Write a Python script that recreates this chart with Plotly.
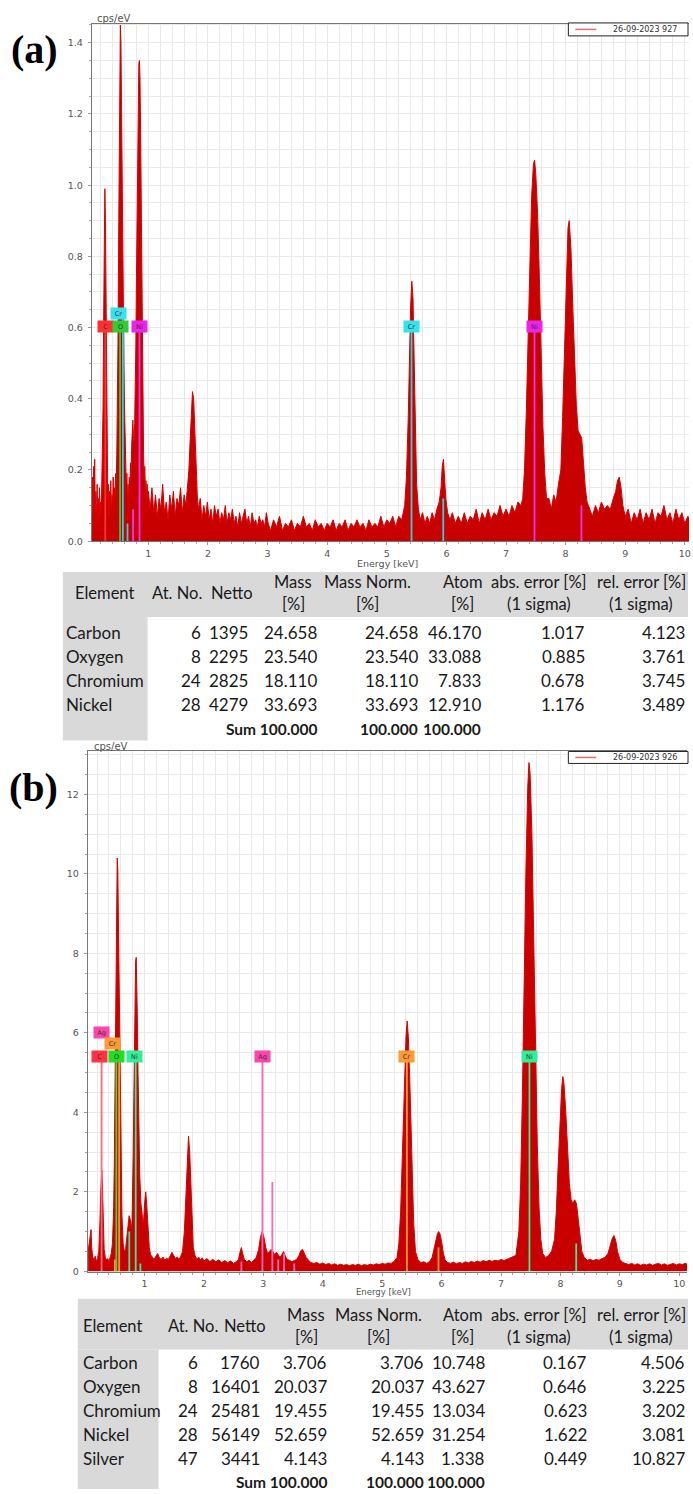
import plotly.graph_objects as go

W, H = 693, 1494


def fx(p):
    return p / W


def fy(p):
    return 1 - p / H


# ---------------- spectrum (a): energy [keV] and intensity [cps/eV] ----------------
energy_a = [
    0.05, 0.06, 0.07, 0.08, 0.09, 0.10, 0.11, 0.12, 0.13, 0.14,
    0.15, 0.16, 0.17, 0.18, 0.19, 0.20, 0.21, 0.22, 0.23, 0.24,
    0.25, 0.26, 0.27, 0.28, 0.29, 0.30, 0.31, 0.32, 0.33, 0.34,
    0.35, 0.36, 0.37, 0.38, 0.39, 0.40, 0.41, 0.42, 0.43, 0.44,
    0.45, 0.46, 0.47, 0.48, 0.49, 0.50, 0.51, 0.52, 0.53, 0.54,
    0.55, 0.56, 0.57, 0.58, 0.59, 0.60, 0.61, 0.62, 0.63, 0.64,
    0.65, 0.66, 0.67, 0.68, 0.69, 0.70, 0.71, 0.72, 0.73, 0.74,
    0.75, 0.76, 0.77, 0.78, 0.79, 0.80, 0.81, 0.82, 0.83, 0.84,
    0.85, 0.86, 0.87, 0.88, 0.89, 0.90, 0.91, 0.92, 0.93, 0.94,
    0.95, 0.96, 0.97, 0.98, 0.99, 1.00,
    1.03, 1.06, 1.09, 1.12, 1.15, 1.18, 1.21, 1.24, 1.27, 1.30,
    1.33, 1.36, 1.39, 1.42, 1.45, 1.48, 1.51, 1.54, 1.57, 1.60,
    1.63, 1.66, 1.68, 1.70, 1.72, 1.74, 1.76, 1.78, 1.80, 1.82,
    1.84, 1.87, 1.90, 1.93, 1.96, 1.99, 2.02, 2.05, 2.08, 2.11,
    2.14, 2.17, 2.20, 2.23, 2.26, 2.29, 2.32, 2.35, 2.38, 2.41,
    2.44, 2.47, 2.50, 2.53, 2.56, 2.59, 2.62, 2.65, 2.68, 2.71,
    2.74, 2.77, 2.80, 2.83, 2.86, 2.89, 2.92, 2.95, 2.98, 3.01,
    3.05, 3.10, 3.15, 3.20, 3.25, 3.30, 3.35, 3.40, 3.45, 3.50,
    3.55, 3.60, 3.65, 3.70, 3.75, 3.80, 3.85, 3.90, 3.95, 4.00,
    4.05, 4.10, 4.15, 4.20, 4.25, 4.30, 4.35, 4.40, 4.45, 4.50,
    4.55, 4.60, 4.65, 4.70, 4.75, 4.80, 4.85, 4.90, 4.95, 5.00,
    5.05, 5.10, 5.15, 5.20, 5.25, 5.30, 5.33, 5.36, 5.38, 5.40,
    5.42, 5.44, 5.46, 5.48, 5.50, 5.53, 5.56, 5.60, 5.64, 5.68,
    5.72, 5.76, 5.80, 5.84, 5.88, 5.91, 5.93, 5.95, 5.97, 5.99,
    6.02, 6.06, 6.10, 6.15, 6.20, 6.25, 6.30, 6.35, 6.40, 6.45,
    6.50, 6.55, 6.60, 6.65, 6.70, 6.75, 6.80, 6.85, 6.90, 6.95,
    7.00, 7.05, 7.10, 7.15, 7.20, 7.25, 7.28, 7.31, 7.34, 7.37,
    7.40, 7.43, 7.46, 7.48, 7.50, 7.53, 7.56, 7.59, 7.62, 7.65,
    7.68, 7.72, 7.76, 7.80, 7.84, 7.88, 7.92, 7.95, 7.98, 8.01,
    8.04, 8.06, 8.09, 8.12, 8.15, 8.18, 8.21, 8.24, 8.27, 8.30,
    8.33, 8.36, 8.40, 8.45, 8.50, 8.55, 8.60, 8.65, 8.70, 8.75,
    8.80, 8.84, 8.87, 8.90, 8.93, 8.96, 9.00, 9.05, 9.10, 9.15,
    9.20, 9.25, 9.30, 9.35, 9.40, 9.45, 9.50, 9.55, 9.60, 9.65,
    9.70, 9.75, 9.80, 9.85, 9.90, 9.95, 10.00, 10.05, 10.10,
]
cps_a = [
    0.10, 0.18, 0.07, 0.21, 0.12, 0.23, 0.06, 0.14, 0.05, 0.16,
    0.08, 0.12, 0.05, 0.15, 0.07, 0.11, 0.08, 0.16, 0.22, 0.38,
    0.62, 0.88, 0.99, 0.90, 0.62, 0.34, 0.18, 0.10, 0.16, 0.07,
    0.14, 0.09, 0.17, 0.08, 0.13, 0.10, 0.18, 0.11, 0.15, 0.12,
    0.19, 0.16, 0.24, 0.36, 0.55, 0.82, 1.10, 1.32, 1.45, 1.40,
    1.18, 0.95, 0.78, 0.66, 0.50, 0.38, 0.28, 0.22, 0.15, 0.19,
    0.12, 0.16, 0.10, 0.18, 0.14, 0.22, 0.19, 0.27, 0.31, 0.34,
    0.30, 0.28, 0.33, 0.40, 0.55, 0.74, 0.95, 1.12, 1.26, 1.34,
    1.35, 1.30, 1.15, 0.92, 0.68, 0.48, 0.33, 0.24, 0.18, 0.21,
    0.14, 0.17, 0.12, 0.16, 0.11, 0.14,
    0.09, 0.15, 0.08, 0.13, 0.07, 0.12, 0.09, 0.16, 0.08, 0.11,
    0.06, 0.13, 0.09, 0.14, 0.07, 0.12, 0.10, 0.15, 0.08, 0.13,
    0.10, 0.16, 0.20, 0.28, 0.38, 0.42, 0.40, 0.30, 0.20, 0.13,
    0.09, 0.12, 0.06, 0.10, 0.07, 0.11, 0.06, 0.09, 0.05, 0.10,
    0.07, 0.09, 0.05, 0.08, 0.06, 0.10, 0.05, 0.08, 0.06, 0.09,
    0.05, 0.07, 0.04, 0.08, 0.05, 0.07, 0.09, 0.05, 0.07, 0.04,
    0.08, 0.05, 0.06, 0.04, 0.07, 0.05, 0.06, 0.04, 0.08, 0.05,
    0.03, 0.06, 0.04, 0.07, 0.03, 0.05, 0.04, 0.06, 0.03, 0.05,
    0.04, 0.07, 0.04, 0.05, 0.03, 0.06, 0.04, 0.05, 0.03, 0.05,
    0.04, 0.06, 0.03, 0.05, 0.04, 0.06, 0.03, 0.05, 0.04, 0.06,
    0.04, 0.05, 0.03, 0.06, 0.04, 0.05, 0.04, 0.07, 0.04, 0.06,
    0.05, 0.07, 0.04, 0.07, 0.06, 0.10, 0.18, 0.35, 0.52, 0.66,
    0.73, 0.68, 0.50, 0.30, 0.16, 0.09, 0.06, 0.08, 0.05, 0.07,
    0.05, 0.08, 0.06, 0.09, 0.11, 0.15, 0.21, 0.23, 0.18, 0.12,
    0.08, 0.06, 0.08, 0.05, 0.07, 0.05, 0.08, 0.05, 0.07, 0.06,
    0.09, 0.05, 0.08, 0.06, 0.09, 0.06, 0.08, 0.07, 0.10, 0.07,
    0.09, 0.07, 0.10, 0.08, 0.11, 0.10, 0.12, 0.20, 0.36, 0.58,
    0.80, 0.97, 1.06, 1.07, 1.03, 0.92, 0.74, 0.52, 0.32, 0.19,
    0.12, 0.12, 0.09, 0.13, 0.11, 0.16, 0.20, 0.35, 0.55, 0.75,
    0.88, 0.90, 0.82, 0.66, 0.50, 0.38, 0.31, 0.30, 0.29, 0.22,
    0.15, 0.11, 0.09, 0.07, 0.10, 0.08, 0.11, 0.09, 0.10, 0.09,
    0.12, 0.14, 0.17, 0.18, 0.15, 0.10, 0.07, 0.09, 0.05, 0.08,
    0.06, 0.09, 0.05, 0.08, 0.06, 0.09, 0.05, 0.08, 0.07, 0.10,
    0.06, 0.08, 0.05, 0.09, 0.06, 0.08, 0.05, 0.07, 0.06,
]

# ---------------- spectrum (b) ----------------
energy_b = [
    0.05, 0.07, 0.09, 0.10, 0.11, 0.13, 0.15, 0.17, 0.19, 0.21,
    0.23, 0.24, 0.25, 0.26, 0.27, 0.28, 0.29, 0.30, 0.31, 0.32,
    0.34, 0.36, 0.38, 0.40, 0.42, 0.44, 0.46, 0.47, 0.48, 0.49,
    0.50, 0.51, 0.52, 0.53, 0.54, 0.55, 0.56, 0.57, 0.58, 0.59,
    0.60, 0.61, 0.62, 0.64, 0.66, 0.68, 0.70, 0.72, 0.74, 0.76,
    0.78, 0.79, 0.80, 0.81, 0.82, 0.83, 0.84, 0.85, 0.86, 0.87,
    0.88, 0.89, 0.90, 0.91, 0.92, 0.94, 0.96, 0.98, 1.00, 1.02,
    1.04, 1.06, 1.08, 1.10,
    1.13, 1.16, 1.19, 1.22, 1.25, 1.28, 1.31, 1.34, 1.37, 1.40,
    1.43, 1.46, 1.49, 1.52, 1.55, 1.58, 1.61, 1.64, 1.67, 1.70,
    1.72, 1.74, 1.76, 1.78, 1.80, 1.82, 1.85, 1.88, 1.91, 1.94,
    1.97, 2.00, 2.05, 2.10, 2.15, 2.20, 2.25, 2.30, 2.35, 2.40,
    2.45, 2.50, 2.55, 2.58, 2.61, 2.63, 2.65, 2.68, 2.72, 2.76,
    2.80, 2.84, 2.88, 2.92, 2.95, 2.98, 3.01, 3.04, 3.07, 3.10,
    3.13, 3.16, 3.19, 3.22, 3.25, 3.28, 3.31, 3.34, 3.37, 3.40,
    3.44, 3.48, 3.52, 3.56, 3.60, 3.63, 3.66, 3.69, 3.72, 3.76,
    3.80, 3.85, 3.90, 3.95, 4.00, 4.05, 4.10, 4.15, 4.20, 4.25,
    4.30, 4.35, 4.40, 4.45, 4.50, 4.55, 4.60, 4.65, 4.70, 4.75,
    4.80, 4.85, 4.90, 4.95, 5.00, 5.05, 5.10, 5.15, 5.20, 5.25,
    5.28, 5.31, 5.34, 5.37, 5.40, 5.42, 5.44, 5.47, 5.50, 5.53,
    5.56, 5.60, 5.65, 5.70, 5.75, 5.80, 5.84, 5.87, 5.90, 5.93,
    5.95, 5.97, 6.00, 6.03, 6.06, 6.10, 6.15, 6.20, 6.25, 6.30,
    6.35, 6.40, 6.45, 6.50, 6.55, 6.60, 6.65, 6.70, 6.75, 6.80,
    6.85, 6.90, 6.95, 7.00, 7.05, 7.10, 7.15, 7.20, 7.25, 7.30,
    7.33, 7.36, 7.39, 7.42, 7.45, 7.47, 7.49, 7.52, 7.55, 7.58,
    7.61, 7.64, 7.67, 7.70, 7.75, 7.80, 7.85, 7.90, 7.93, 7.96,
    7.99, 8.02, 8.04, 8.06, 8.09, 8.12, 8.15, 8.18, 8.21, 8.24,
    8.27, 8.30, 8.33, 8.36, 8.40, 8.45, 8.50, 8.55, 8.60, 8.65,
    8.70, 8.75, 8.80, 8.84, 8.87, 8.90, 8.93, 8.96, 9.00, 9.05,
    9.10, 9.15, 9.20, 9.25, 9.30, 9.35, 9.40, 9.45, 9.50, 9.55,
    9.60, 9.65, 9.70, 9.75, 9.80, 9.85, 9.90, 9.95, 10.00, 10.05,
    10.10, 10.14,
]
cps_b = [
    0.5, 0.7, 1.0, 1.05, 0.6, 0.35, 0.3, 0.38, 0.25, 0.32,
    0.5, 0.8, 1.3, 1.9, 2.4, 2.55, 2.2, 1.5, 0.9, 0.55,
    0.35, 0.28, 0.32, 0.25, 0.35, 0.45, 0.7, 1.0, 1.6, 2.6,
    4.0, 6.0, 8.2, 9.8, 10.4, 10.1, 9.0, 7.8, 6.2, 4.8,
    3.4, 2.2, 1.4, 0.7, 0.5, 0.55, 0.8, 1.15, 1.4, 1.3,
    1.05, 1.3, 2.0, 3.0, 4.4, 5.8, 7.0, 7.8, 7.9, 7.4,
    6.3, 5.0, 3.9, 3.0, 2.4, 1.7, 1.3, 1.15, 1.7, 2.0,
    1.6, 1.0, 0.6, 0.42,
    0.35, 0.3, 0.38, 0.45, 0.34, 0.3, 0.36, 0.28, 0.33, 0.3,
    0.38, 0.48, 0.4, 0.32, 0.36, 0.3, 0.38, 0.5, 1.0, 2.2,
    3.1, 3.4, 3.0, 2.0, 1.0, 0.6, 0.4, 0.3, 0.36, 0.28,
    0.34, 0.26, 0.32, 0.25, 0.3, 0.24, 0.29, 0.22, 0.27, 0.22,
    0.26, 0.2, 0.25, 0.3, 0.5, 0.6, 0.45, 0.3, 0.24, 0.28,
    0.22, 0.3, 0.35, 0.55, 0.85, 1.0, 0.85, 0.6, 0.45, 0.5,
    0.55, 0.5, 0.42, 0.48, 0.4, 0.35, 0.42, 0.5, 0.38, 0.3,
    0.28, 0.24, 0.27, 0.3, 0.4, 0.52, 0.55, 0.45, 0.35, 0.28,
    0.22, 0.2, 0.22, 0.18, 0.21, 0.17, 0.2, 0.16, 0.19, 0.15,
    0.18, 0.15, 0.17, 0.14, 0.17, 0.15, 0.18, 0.14, 0.17, 0.15,
    0.18, 0.16, 0.19, 0.17, 0.2, 0.18, 0.21, 0.2, 0.25, 0.35,
    0.7, 1.5, 3.0, 4.8, 5.9, 6.3, 5.9, 4.5, 2.6, 1.2,
    0.5, 0.3, 0.22, 0.24, 0.2, 0.25, 0.35, 0.55, 0.8, 0.95,
    1.0, 0.95, 0.75, 0.45, 0.28, 0.22, 0.2, 0.23, 0.19, 0.22,
    0.2, 0.24, 0.21, 0.25, 0.22, 0.26, 0.23, 0.27, 0.24, 0.28,
    0.25, 0.28, 0.26, 0.3, 0.27, 0.3, 0.32, 0.35, 0.4, 1.0,
    2.2, 4.5, 7.5, 10.2, 12.2, 12.8, 12.5, 11.0, 8.4, 5.6,
    3.2, 1.6, 0.8, 0.45, 0.35, 0.4, 0.5, 0.8, 1.5, 2.6,
    3.8, 4.6, 4.9, 4.7, 4.0, 3.0, 2.2, 1.8, 1.7, 1.8,
    1.7, 1.3, 0.8, 0.5, 0.35, 0.28, 0.3, 0.27, 0.3, 0.28,
    0.32, 0.35, 0.45, 0.65, 0.82, 0.9, 0.78, 0.5, 0.3, 0.22,
    0.2, 0.17, 0.2, 0.16, 0.19, 0.15, 0.18, 0.16, 0.19, 0.15,
    0.18, 0.2, 0.16, 0.19, 0.15, 0.18, 0.2, 0.16, 0.19, 0.17,
    0.2, 0.18,
]

# ---------------- element line markers: (element, colour, energies, heights) ----------------
lines_a = [
    ("C", "#ff3030", [0.277], [0.60]),
    ("O", "#33cc33", [0.525], [0.60]),
    ("Cr", "#33d0d8", [0.573, 0.65, 5.415, 5.947], [0.64, 0.05, 0.60, 0.12]),
    ("Ni", "#ee33ee", [0.743, 0.851, 7.478, 8.265], [0.09, 0.60, 0.60, 0.10]),
]
lines_b = [
    ("C", "#ff6680", [0.277], [5.4]),
    ("O", "#33dd33", [0.525], [5.4]),
    ("Cr", "#ff9933", [0.50, 0.573, 5.415, 5.947], [0.3, 5.72, 5.4, 0.6]),
    ("Ni", "#33ee99", [0.743, 0.851, 0.93, 7.478, 8.265], [1.0, 5.4, 0.2, 5.4, 0.7]),
    ("Ag", "#ff66b3", [2.63, 2.984, 3.151, 3.25, 3.348, 3.52], [0.25, 5.4, 2.25, 0.3, 0.45, 0.2]),
]

# element tags: (text, energy, height, colour)
tags_a = [
    ("C", 0.277, 0.604, "#ff3030"), ("O", 0.525, 0.604, "#33cc33"),
    ("Cr", 0.50, 0.64, "#33e4ee"), ("Ni", 0.851, 0.604, "#ee22ee"),
    ("Cr", 5.415, 0.604, "#33e4ee"), ("Ni", 7.478, 0.604, "#ee22ee"),
]
tags_b = [
    ("Ag", 0.27, 6.02, "#ff44aa"), ("Cr", 0.455, 5.72, "#ff9933"),
    ("C", 0.25, 5.4, "#ff3344"), ("O", 0.525, 5.4, "#22dd22"),
    ("Ni", 0.835, 5.4, "#33ee99"), ("Ag", 2.984, 5.4, "#ff44aa"),
    ("Cr", 5.415, 5.4, "#ff9933"), ("Ni", 7.478, 5.4, "#33ee99"),
]

legend_a = "26-09-2023 927"
legend_b = "26-09-2023 926"

# ---------------- quantification tables ----------------
table_head = ["Element", "At. No.", "Netto", "Mass", "Mass Norm.", "Atom",
              "abs. error [%]", "rel. error [%]"]
table_head2 = ["", "", "", "[%]", "[%]", "[%]", "(1 sigma)", "(1 sigma)"]

elem_a = ["Carbon", "Oxygen", "Chromium", "Nickel"]
atno_a = ["6", "8", "24", "28"]
netto_a = ["1395", "2295", "2825", "4279"]
mass_a = ["24.658", "23.540", "18.110", "33.693"]
massnorm_a = ["24.658", "23.540", "18.110", "33.693"]
atom_a = ["46.170", "33.088", "7.833", "12.910"]
abserr_a = ["1.017", "0.885", "0.678", "1.176"]
relerr_a = ["4.123", "3.761", "3.745", "3.489"]

elem_b = ["Carbon", "Oxygen", "Chromium", "Nickel", "Silver"]
atno_b = ["6", "8", "24", "28", "47"]
netto_b = ["1760", "16401", "25481", "56149", "3441"]
mass_b = ["3.706", "20.037", "19.455", "52.659", "4.143"]
massnorm_b = ["3.706", "20.037", "19.455", "52.659", "4.143"]
atom_b = ["10.748", "43.627", "13.034", "31.254", "1.338"]
abserr_b = ["0.167", "0.646", "0.623", "1.622", "0.449"]
relerr_b = ["4.506", "3.225", "3.202", "3.081", "10.827"]

sum_values = ["100.000", "100.000", "100.000"]

RED_FILL = "#c80000"
RED_LINE = "#d60000"
GRID = "#e9e9e9"
AXIS_FONT = dict(family="DejaVu Sans", size=9.5, color="#555555")

fig = go.Figure()

# spectra
fig.add_trace(go.Scatter(x=energy_a, y=cps_a, mode="lines", fill="tozeroy",
                         fillcolor=RED_FILL, line=dict(color=RED_LINE, width=1),
                         xaxis="x", yaxis="y", hoverinfo="skip"))
fig.add_trace(go.Scatter(x=energy_b, y=cps_b, mode="lines", fill="tozeroy",
                         fillcolor=RED_FILL, line=dict(color=RED_LINE, width=1),
                         xaxis="x2", yaxis="y2", hoverinfo="skip"))


def add_markers(spec, xa, ya):
    for name, color, ens, hs in spec:
        xs, ys = [], []
        for e, h in zip(ens, hs):
            xs += [e, e, None]
            ys += [0, h, None]
        fig.add_trace(go.Scatter(x=xs, y=ys, mode="lines", name=name,
                                 line=dict(color=color, width=1.8),
                                 xaxis=xa, yaxis=ya, hoverinfo="skip"))


add_markers(lines_a, "x", "y")
add_markers(lines_b, "x2", "y2")

annotations = []
shapes = []


def add_tags(tags, xa, ya):
    for text, e, h, color in tags:
        annotations.append(dict(
            x=e, y=h, xref=xa, yref=ya, text=text, showarrow=False,
            bgcolor=color, width=12, height=8, borderpad=1.5,
            font=dict(family="DejaVu Sans", size=6.5, color="#333333"),
            xanchor="center", yanchor="middle"))


add_tags(tags_a, "x", "y")
add_tags(tags_b, "x2", "y2")


def axis_common():
    return dict(showgrid=True, gridcolor=GRID, gridwidth=1, zeroline=False,
                showline=True, linecolor="#777777", linewidth=1,
                ticks="outside", ticklen=3, tickcolor="#999999",
                tickfont=AXIS_FONT)


xa = axis_common()
xa.update(domain=[fx(92), fx(691)], range=[0.05, 10.07], anchor="y",
          tickmode="linear", tick0=0, dtick=1, mirror=True,
          minor=dict(tick0=0, dtick=0.2, showgrid=True, gridcolor=GRID,
                     ticks="outside", ticklen=2, tickcolor="#aaaaaa"))
ya = axis_common()
ya.update(domain=[fy(543), fy(24)], range=[0, 1.453], anchor="x",
          tickmode="linear", tick0=0, dtick=0.2, tickformat=".1f",
          ticklabelstandoff=3,
          minor=dict(tick0=0, dtick=0.05, showgrid=True, gridcolor=GRID,
                     ticks="outside", ticklen=2, tickcolor="#aaaaaa"))
xb = axis_common()
xb.update(domain=[fx(88), fx(689)], range=[0.044, 10.13], anchor="y2",
          tickmode="linear", tick0=0, dtick=1, mirror=True,
          minor=dict(tick0=0, dtick=0.2, showgrid=True, gridcolor=GRID,
                     ticks="outside", ticklen=2, tickcolor="#aaaaaa"))
yb = axis_common()
yb.update(domain=[fy(1276), fy(754)], range=[-0.01, 13.08], anchor="x2",
          tickmode="linear", tick0=0, dtick=2, ticklabelstandoff=3,
          minor=dict(tick0=0, dtick=0.5, showgrid=True, gridcolor=GRID,
                     ticks="outside", ticklen=2, tickcolor="#aaaaaa"))

# axis captions
for text, x, y, size in [("cps/eV", 114, 19, 10), ("Energy [keV]", 389, 565, 9.5),
                         ("cps/eV", 111, 749, 10), ("Energy [keV]", 385, 1296, 8.5)]:
    annotations.append(dict(x=fx(x), y=fy(y), xref="paper", yref="paper",
                            text=text, showarrow=False, xanchor="center",
                            yanchor="middle",
                            font=dict(family="DejaVu Sans", size=size,
                                      color="#555555")))

# panel letters
for text, x, y in [("(a)", 35, 50), ("(b)", 34, 790)]:
    annotations.append(dict(x=fx(x), y=fy(y), xref="paper", yref="paper",
                            text="<b>%s</b>" % text, showarrow=False,
                            xanchor="center", yanchor="middle",
                            font=dict(family="Liberation Serif", size=40,
                                      color="#000000")))


def add_legend(label, x0, x1, y0, y1):
    shapes.append(dict(type="rect", xref="paper", yref="paper",
                       x0=fx(x0), x1=fx(x1), y0=fy(y1), y1=fy(y0),
                       line=dict(color="#222222", width=1),
                       fillcolor="#ffffff", layer="above"))
    ym = (y0 + y1) / 2
    shapes.append(dict(type="line", xref="paper", yref="paper",
                       x0=fx(x0 + 7), x1=fx(x0 + 28), y0=fy(ym), y1=fy(ym),
                       line=dict(color="#ee6a6a", width=1.5), layer="above"))
    annotations.append(dict(x=fx(x0 + 77), y=fy(ym), xref="paper",
                            yref="paper", text=label, showarrow=False,
                            xanchor="center", yanchor="middle",
                            font=dict(family="DejaVu Sans", size=8,
                                      color="#333333")))


add_legend(legend_a, 570, 690, 23, 36)
add_legend(legend_b, 570, 690, 754, 766)

TFONT = dict(family="Lato", size=17, color="#1a1a1a")
HFONT = dict(family="Lato", size=16.5, color="#1a1a1a")
SFONT = dict(family="Lato", size=15.5, color="#1a1a1a")


def add_table(geo, cols):
    gl, gr, er = geo["gray_left"], geo["right"], geo["elem_right"]
    shapes.append(dict(type="rect", xref="paper", yref="paper",
                       x0=fx(gl), x1=fx(gr), y0=fy(geo["head_bottom"]),
                       y1=fy(geo["top"]), fillcolor="#d9d9d9",
                       line=dict(width=0), layer="below"))
    shapes.append(dict(type="rect", xref="paper", yref="paper",
                       x0=fx(gl), x1=fx(er), y0=fy(geo["col_bottom"]),
                       y1=fy(geo["head_bottom"]), fillcolor="#d9d9d9",
                       line=dict(width=0), layer="below"))

    def txt(s, x, y, anchor, bold=False, font=TFONT):
        annotations.append(dict(x=fx(x), y=fy(y), xref="paper", yref="paper",
                                text=("<b>%s</b>" % s) if bold else s,
                                showarrow=False, xanchor=anchor,
                                yanchor="middle", font=font))

    for i, (h1, h2) in enumerate(zip(table_head, table_head2)):
        cx = geo["head_centers"][i]
        if h2:
            txt(h1, cx, geo["head_y1"], "center", font=HFONT)
            txt(h2, cx, geo["head_y2"], "center", font=HFONT)
        else:
            txt(h1, cx, geo["head_mid"], "center", font=HFONT)

    for r, y in enumerate(geo["rows"]):
        txt(cols[0][r], geo["elem_left"], y, "left")
        for c in range(1, len(cols)):
            txt(cols[c][r], geo["rights"][c - 1], y, "right")

    ys = geo["sum_y"]
    txt("Sum " + sum_values[0], geo["rights"][2], ys, "right", True, SFONT)
    txt(sum_values[1], geo["rights"][3], ys, "right", True, SFONT)
    txt(sum_values[2], geo["rights"][4], ys, "right", True, SFONT)


geo_a = dict(gray_left=63, right=690, elem_right=148, top=574, head_bottom=619,
             col_bottom=743, head_y1=584, head_y2=606, head_mid=595,
             head_centers=[105, 178, 233, 294, 369, 464, 541, 643],
             elem_left=64, rights=[204, 251, 320, 421, 484, 589, 689],
             rows=[635, 659, 683, 707], sum_y=731)
add_table(geo_a, [elem_a, atno_a, netto_a, mass_a, massnorm_a, atom_a,
                  abserr_a, relerr_a])

geo_b = dict(gray_left=78, right=690, elem_right=159, top=1303,
             head_bottom=1354, col_bottom=1494, head_y1=1319, head_y2=1341,
             head_mid=1330,
             head_centers=[113, 194, 246, 307, 380, 464, 541, 643],
             elem_left=81, rights=[201, 263, 330, 427, 488, 591, 689],
             rows=[1367, 1391, 1415, 1439, 1463], sum_y=1487)
add_table(geo_b, [elem_b, atno_b, netto_b, mass_b, massnorm_b, atom_b,
                  abserr_b, relerr_b])

fig.update_layout(
    width=W, height=H, margin=dict(l=0, r=0, t=0, b=0),
    paper_bgcolor="#ffffff", plot_bgcolor="#ffffff", showlegend=False,
    xaxis=xa, yaxis=ya, xaxis2=xb, yaxis2=yb,
    annotations=annotations, shapes=shapes,
)

fig.write_html("out.html")
